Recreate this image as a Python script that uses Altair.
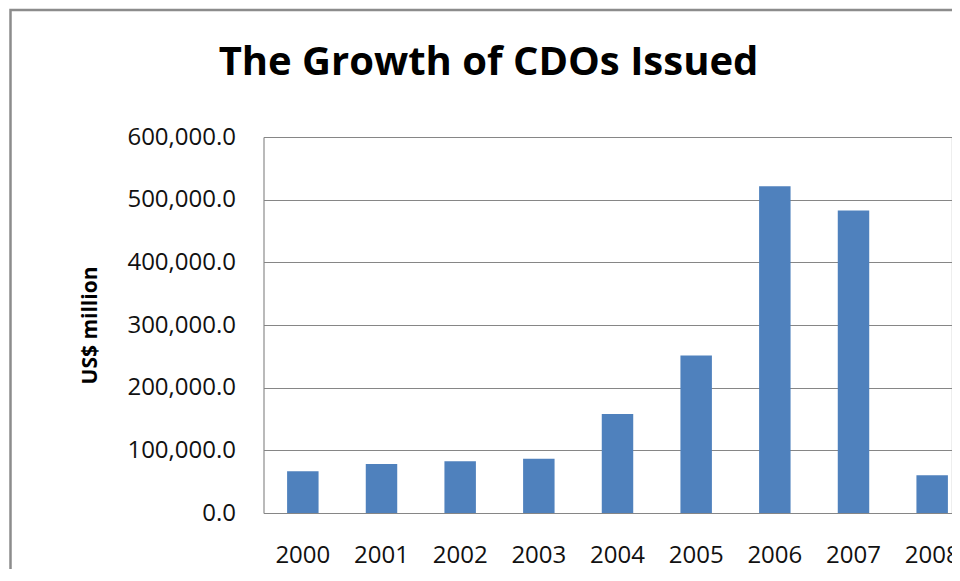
import altair as alt
import pandas as pd

years = ["2000", "2001", "2002", "2003", "2004", "2005", "2006", "2007", "2008"]
issued = [66500, 78100, 82400, 86600, 157900, 251500, 521500, 482700, 60100]
y_ticks = [0, 100000, 200000, 300000, 400000, 500000, 600000]
title_text = "The Growth of CDOs Issued"

df = pd.DataFrame({"year": years, "value": issued})

W, H = 688, 376
BAND_RANGE = 708
FONT = "Open Sans"

bars = alt.Chart(df).mark_bar(color="#4F81BD").encode(
    x=alt.X(
        "year:N",
        sort=years,
        scale=alt.Scale(paddingInner=0.6, paddingOuter=0.3, range=[0, BAND_RANGE]),
        axis=alt.Axis(
            title=None, labelAngle=0, ticks=False, tickSize=0, labelPadding=49,
            labelBaseline="alphabetic",
            labelFont=FONT, labelFontSize=24, labelColor="#111111",
            domainColor="#868686", domainWidth=1, grid=False,
        ),
    ),
    y=alt.Y(
        "value:Q",
        scale=alt.Scale(domain=[0, 600000], nice=False),
        axis=alt.Axis(
            title="US$ million", values=y_ticks, format=",.1f",
            ticks=False, tickSize=0, labelPadding=28,
            labelFont=FONT, labelFontSize=24, labelColor="#111111",
            domainColor="#868686", domainWidth=1,
            gridColor="#868686", gridWidth=1,
            titleFont=FONT, titleFontSize=21, titleFontWeight="bold",
            titleColor="#000000", titleAngle=270, titleX=-173, titleY=H / 2,
            titleAlign="center", titleBaseline="middle",
        ),
    ),
)

frame = alt.Chart(pd.DataFrame({"k": [0]})).mark_rect(
    fill="transparent", stroke="#8C8C8C", strokeWidth=2.5
).encode(
    x=alt.value(-253), x2=alt.value(W + 400), y=alt.value(-127), y2=alt.value(H + 200)
)

title = alt.Chart(pd.DataFrame({"t": [title_text]})).mark_text(
    font=FONT, fontSize=40, fontWeight="bold", color="#000000",
    align="center", baseline="alphabetic",
).encode(text="t:N", x=alt.value(225), y=alt.value(-62))

chart = alt.layer(frame, bars, title).properties(
    width=W, height=H,
    autosize=alt.AutoSizeParams(type="none"),
    padding={"left": 255.5, "top": 129, "right": 0, "bottom": 56},
).configure_view(stroke=None).configure(background="white")

chart.save("out.html", embed_options={"renderer": "svg", "actions": False})
